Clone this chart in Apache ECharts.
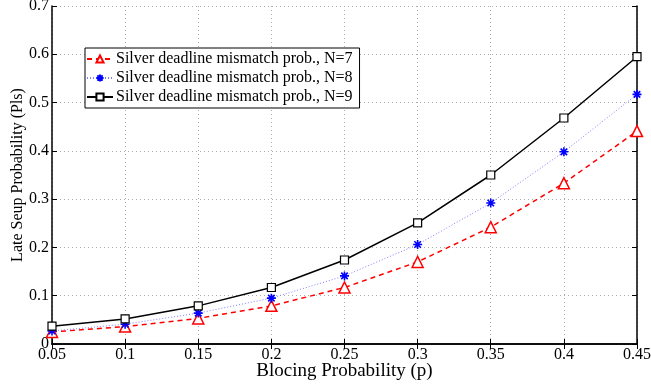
<!DOCTYPE html>
<html>
<head>
<meta charset="utf-8">
<script src="https://cdn.jsdelivr.net/npm/echarts@6/dist/echarts.min.js"></script>
<style>
html, body { margin: 0; padding: 0; background: #fff; }
#chart { width: 651px; height: 389px; }
</style>
</head>
<body>
<div id="chart"></div>
<script>
var blockProb = [0.05, 0.1, 0.15, 0.2, 0.25, 0.3, 0.35, 0.4, 0.45];
var mismatchN7 = [0.025, 0.036, 0.053, 0.079, 0.117, 0.170, 0.242, 0.333, 0.441];
var mismatchN8 = [0.027, 0.041, 0.064, 0.095, 0.141, 0.206, 0.292, 0.398, 0.517];
var mismatchN9 = [0.037, 0.052, 0.079, 0.117, 0.174, 0.251, 0.350, 0.468, 0.595];
var seriesNames = [
    "Silver deadline mismatch prob., N=7",
    "Silver deadline mismatch prob., N=8",
    "Silver deadline mismatch prob., N=9"
];

function pairs(ys) {
    var out = [];
    for (var i = 0; i < blockProb.length; i++) {
        out.push([blockProb[i], ys[i]]);
    }
    return out;
}

var serif = "Liberation Serif";
var asterisk = "path://M0,-5L0,5M-5,0L5,0M-3.6,-3.6L3.6,3.6M-3.6,3.6L3.6,-3.6";

var chart = echarts.init(document.getElementById("chart"));

var option = {
    backgroundColor: "#fff",
    animation: false,
    grid: { left: 52, right: 14, top: 6, bottom: 45, containLabel: false, outerBoundsMode: "none" },
    legend: {
        orient: "vertical",
        left: 85,
        top: 48,
        itemGap: 3,
        itemWidth: 26,
        itemHeight: 9,
        padding: [3, 7, 3, 1],
        borderColor: "#000",
        borderWidth: 1,
        backgroundColor: "#fff",
        textStyle: { fontFamily: serif, fontSize: 16, color: "#000", padding: [0, 0, 0, -2] },
        data: seriesNames
    },
    xAxis: [{
        type: "value",
        min: 0.05,
        max: 0.45,
        interval: 0.05,
        name: "Blocing Probability (p)",
        nameLocation: "middle",
        nameGap: 18,
        nameMoveOverlap: false,
        nameTextStyle: { fontFamily: serif, fontSize: 19, color: "#000" },
        axisLine: { lineStyle: { color: "#000", width: 1.5 } },
        axisTick: { inside: true, length: 5, lineStyle: { color: "#000" } },
        axisLabel: { fontFamily: serif, fontSize: 16, color: "#000", margin: 3 },
        splitLine: { show: true, lineStyle: { color: "#aaa", type: [1, 3], width: 1 } }
    }, {
        type: "value",
        position: "top",
        min: 0.05,
        max: 0.45,
        interval: 0.05,
        axisLine: { show: true, lineStyle: { color: "#000", width: 1.5 } },
        axisTick: { show: true, inside: true, length: 5, lineStyle: { color: "#000" } },
        axisLabel: { show: false },
        splitLine: { show: false }
    }],
    yAxis: [{
        type: "value",
        min: 0,
        max: 0.7,
        interval: 0.1,
        name: "Late Seup Probability (Pls)",
        nameLocation: "middle",
        nameGap: 26,
        nameMoveOverlap: false,
        nameTextStyle: { fontFamily: serif, fontSize: 16, color: "#000" },
        axisLine: { show: true, lineStyle: { color: "#000", width: 1.5 } },
        axisTick: { show: true, inside: true, length: 5, lineStyle: { color: "#000" } },
        axisLabel: { fontFamily: serif, fontSize: 16, color: "#000", margin: 3 },
        splitLine: { show: true, lineStyle: { color: "#aaa", type: [1, 3], width: 1 } }
    }, {
        type: "value",
        position: "right",
        min: 0,
        max: 0.7,
        interval: 0.1,
        axisLine: { show: true, lineStyle: { color: "#000", width: 1.5 } },
        axisTick: { show: true, inside: true, length: 5, lineStyle: { color: "#000" } },
        axisLabel: { show: false },
        splitLine: { show: false }
    }],
    series: [{
        name: seriesNames[0],
        type: "line",
        data: pairs(mismatchN7),
        symbol: "triangle",
        symbolSize: 11,
        showAllSymbol: true,
        lineStyle: { color: "#ff0000", width: 1.5, type: [5, 4] },
        itemStyle: { color: "#fff", borderColor: "#ff0000", borderWidth: 1.5 },
        z: 3
    }, {
        name: seriesNames[1],
        type: "line",
        data: pairs(mismatchN8),
        symbol: asterisk,
        symbolSize: 9,
        showAllSymbol: true,
        lineStyle: { color: "#7f7fff", width: 1, type: [1, 2] },
        itemStyle: { color: "#0000ff", borderColor: "#0000ff", borderWidth: 1.6 },
        z: 4
    }, {
        name: seriesNames[2],
        type: "line",
        data: pairs(mismatchN9),
        symbol: "rect",
        symbolSize: 8,
        showAllSymbol: true,
        lineStyle: { color: "#000", width: 1.5 },
        itemStyle: { color: "#fff", borderColor: "#000", borderWidth: 1.2 },
        z: 5
    }]
};

chart.setOption(option);
</script>
</body>
</html>
